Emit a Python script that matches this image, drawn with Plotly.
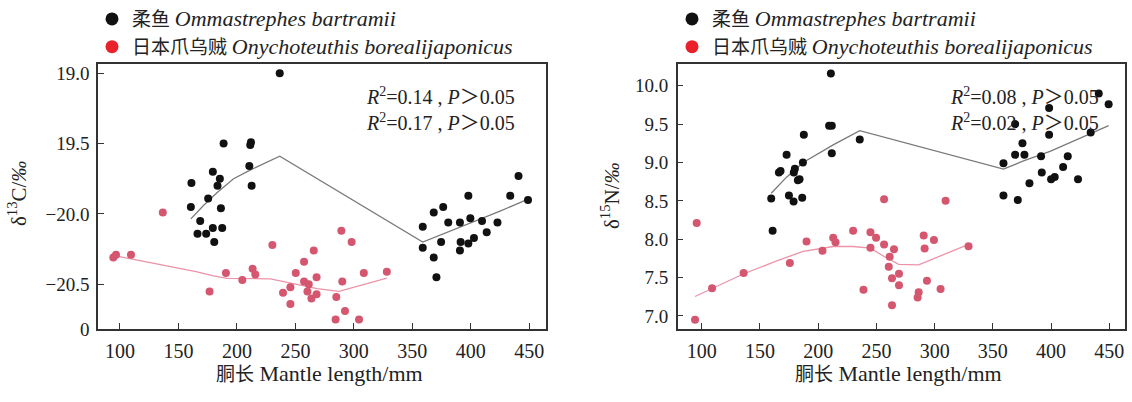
import plotly.graph_objects as go

W, H = 1132, 402

# ---------------- data ----------------
# Left panel: delta13C vs mantle length
ob_c_x = [236.6, 188.6, 212.0, 211.4, 210.6, 212.6, 179.4, 185.4, 183.4, 161.1,
          175.4, 160.6, 186.3, 168.6, 166.3, 173.7, 179.4, 187.4, 180.6,
          358.9, 358.9, 368.3, 376.4, 368.3, 370.6, 374.6, 380.7, 390.7, 390.7,
          391.3, 397.9, 397.9, 399.6, 402.7, 409.6, 413.6, 422.8, 433.7, 440.8, 448.9]
ob_c_y = [-19.00, -19.50, -19.49, -19.51, -19.66, -19.80, -19.70, -19.75, -19.80, -19.78,
          -19.89, -19.95, -19.96, -20.05, -20.14, -20.14, -20.10, -20.10, -20.20,
          -20.09, -20.24, -19.99, -19.95, -20.31, -20.45, -20.20, -20.06, -20.06, -20.26,
          -20.20, -19.87, -20.21, -20.03, -20.17, -20.05, -20.13, -20.06, -19.87, -19.73, -19.90]

ob2_c_x = [94.3, 96.6, 109.4, 136.6, 176.6, 190.6, 204.6, 213.4, 215.7, 230.3,
           239.4, 245.7, 245.7, 250.3, 257.4, 265.7, 257.4, 261.4, 260.3, 263.7,
           268.1, 268.1, 289.3, 298.1, 290.1, 285.0, 292.4, 284.4, 304.4, 308.5, 328.2]
ob2_c_y = [-20.31, -20.29, -20.29, -19.99, -20.55, -20.42, -20.47, -20.39, -20.43, -20.22,
           -20.56, -20.52, -20.64, -20.42, -20.34, -20.26, -20.48, -20.50, -20.55, -20.60,
           -20.45, -20.57, -20.12, -20.20, -20.48, -20.59, -20.69, -20.75, -20.75, -20.42, -20.41]

fit_ob_c_x = [160.6, 171.4, 182.9, 197.1, 210.9, 236.6, 358.9, 380.0, 400.0, 425.0, 449.0]
fit_ob_c_y = [-20.035, -19.94, -19.85, -19.75, -19.69, -19.59, -20.20, -20.13, -20.06, -19.98, -19.895]

fit_ob2_c_x = [94.3, 134.3, 165.0, 180.0, 191.4, 228.6, 245.7, 268.6, 287.2, 328.2]
fit_ob2_c_y = [-20.294, -20.358, -20.41, -20.44, -20.457, -20.461, -20.49, -20.53, -20.55, -20.456]

# Right panel: delta15N vs mantle length
ob_n_x = [210.9, 209.4, 211.7, 211.7, 235.7, 187.7, 186.9, 172.9, 166.3, 167.7,
          180.0, 179.1, 184.0, 182.6, 174.9, 186.3, 178.9, 159.7, 160.9,
          359.1, 359.1, 371.4, 369.1, 377.1, 375.4, 369.1, 391.4, 392.0, 381.4,
          398.3, 398.3, 400.0, 403.1, 410.3, 414.3, 423.1, 434.0, 440.9, 449.4]
ob_n_y = [10.16, 9.48, 9.48, 9.12, 9.30, 9.36, 9.00, 9.10, 8.87, 8.89,
          8.92, 8.87, 8.78, 8.77, 8.57, 8.54, 8.49, 8.53, 8.11,
          8.99, 8.57, 8.51, 9.10, 9.10, 9.25, 9.50, 9.08, 8.87, 8.73,
          9.71, 9.36, 8.78, 8.81, 8.94, 9.08, 8.78, 9.39, 9.90, 9.76]

ob2_n_x = [94.3, 95.7, 108.9, 136.0, 175.7, 190.0, 203.7, 212.9, 214.9, 230.0,
           238.9, 244.9, 244.9, 249.7, 256.6, 256.6, 265.1, 261.4, 260.6, 269.4,
           263.4, 269.4, 263.4, 286.3, 285.4, 293.4, 290.6, 291.4, 299.4, 305.1, 309.4, 329.1]
ob2_n_y = [6.95, 8.21, 7.36, 7.56, 7.69, 7.97, 7.85, 8.02, 7.96, 8.11,
           7.34, 8.09, 7.89, 8.02, 7.93, 8.52, 7.87, 7.77, 7.64, 7.55,
           7.49, 7.40, 7.14, 7.31, 7.24, 7.46, 8.05, 7.88, 7.99, 7.35, 8.50, 7.91]

fit_ob_n_x = [159.7, 172.9, 187.1, 212.9, 235.7, 359.1, 376.3, 399.1, 449.4]
fit_ob_n_y = [8.599, 8.809, 9.00, 9.23, 9.415, 8.914, 9.02, 9.146, 9.48]

fit_ob2_n_x = [94.3, 135.7, 165.0, 187.1, 212.9, 230.0, 244.9, 256.3, 269.1, 286.3, 329.1]
fit_ob2_n_y = [7.253, 7.547, 7.72, 7.842, 7.905, 7.905, 7.884, 7.778, 7.673, 7.665, 7.934]

x_ticks = [100, 150, 200, 250, 300, 350, 400, 450]
c_ticks = [-19.0, -19.5, -20.0, -20.5, -20.819]
c_ticktext = ["19.0", "19.5", "\u221220.0", "\u221220.5", "0"]
n_ticks = [7.0, 7.5, 8.0, 8.5, 9.0, 9.5, 10.0]
n_ticktext = ["7.0", "7.5", "8.0", "8.5", "9.0", "9.5", "10.0"]

species = ["柔鱼 <i><span style='font-size:22px'>Ommastrephes bartramii</span></i>",
           "日本爪乌贼 <i><span style='font-size:22px'>Onychoteuthis borealijaponicus</span></i>"]
stats_c = ["<i>R</i><sup>2</sup>=0.14 , <i>P</i>＞0.05", "<i>R</i><sup>2</sup>=0.17 , <i>P</i>＞0.05"]
stats_n = ["<i>R</i><sup>2</sup>=0.08 , <i>P</i>＞0.05", "<i>R</i><sup>2</sup>=0.02 , <i>P</i>＞0.05"]
x_title = "<span style='font-size:19px'>胴长</span> Mantle length/mm"

# ---------------- style ----------------
SERIF = "Liberation Serif, Noto Sans CJK SC, serif"
BLACK = "#111111"
PINK = "#d4566f"
PINK_LINE = "#ec93a8"
GRAY_LINE = "#7a7a7a"
LEG_RED = "#e8212b"
AX = "#333333"
TXT = "#222222"

fig = go.Figure()

def pts(x, y, color, xa, ya):
    fig.add_trace(go.Scatter(x=x, y=y, mode="markers", xaxis=xa, yaxis=ya,
                             marker=dict(size=8, color=color), showlegend=False))

def line(x, y, color, xa, ya):
    fig.add_trace(go.Scatter(x=x, y=y, mode="lines", xaxis=xa, yaxis=ya,
                             line=dict(color=color, width=1.3), showlegend=False))

line(fit_ob_c_x, fit_ob_c_y, GRAY_LINE, "x", "y")
line(fit_ob2_c_x, fit_ob2_c_y, PINK_LINE, "x", "y")
pts(ob_c_x, ob_c_y, BLACK, "x", "y")
pts(ob2_c_x, ob2_c_y, PINK, "x", "y")

line(fit_ob_n_x, fit_ob_n_y, GRAY_LINE, "x2", "y2")
line(fit_ob2_n_x, fit_ob2_n_y, PINK_LINE, "x2", "y2")
pts(ob_n_x, ob_n_y, BLACK, "x2", "y2")
pts(ob2_n_x, ob2_n_y, PINK, "x2", "y2")

# legend entries (one legend per panel)
for leg, xa, ya in [("legend", "x", "y"), ("legend2", "x2", "y2")]:
    for name, col, grp in [(species[0], BLACK, "a"), (species[1], LEG_RED, "b")]:
        fig.add_trace(go.Scatter(x=[None], y=[None], mode="markers", name=name,
                                 xaxis=xa, yaxis=ya, legend=leg, legendgroup=grp + leg,
                                 marker=dict(size=13, color=col), showlegend=True))

y_dom = [1 - 338 / H, 1 - 63 / H]
xl_dom = [98 / W, 546 / W]
xr_dom = [677.7 / W, 1125 / W]

axis_common = dict(showline=True, mirror=True, linecolor=AX, linewidth=1.5,
                   ticks="inside", ticklen=6, tickwidth=1.2, tickcolor=AX,
                   showgrid=False, zeroline=False)
xfont = dict(family=SERIF, size=20, color=TXT)
yfont = dict(family=SERIF, size=19, color=TXT)

leg_common = dict(font=dict(family=SERIF, size=19, color=TXT), bgcolor="rgba(0,0,0,0)",
                  itemsizing="trace", tracegroupgap=0, xanchor="left", yanchor="top",
                  orientation="v")

fig.update_layout(
    width=W, height=H, autosize=False,
    margin=dict(l=0, r=0, t=0, b=0),
    paper_bgcolor="white", plot_bgcolor="white",
    showlegend=True,
    xaxis=dict(domain=xl_dom, range=[81.2, 464.3], tickvals=x_ticks, anchor="y",
               tickfont=xfont, ticklabelstandoff=3, **axis_common),
    yaxis=dict(domain=y_dom, range=[-20.819, -18.933], tickvals=c_ticks, ticktext=c_ticktext,
               anchor="x", tickfont=yfont, ticklabelstandoff=3, **axis_common),
    xaxis2=dict(domain=xr_dom, range=[79.4, 463.45], tickvals=x_ticks, anchor="y2",
                tickfont=xfont, ticklabelstandoff=3, **axis_common),
    yaxis2=dict(domain=y_dom, range=[6.827, 10.286], tickvals=n_ticks, ticktext=n_ticktext,
                anchor="x2", tickfont=yfont, ticklabelstandoff=4, **axis_common),
    legend=dict(x=92 / W, y=1 + 3 / H, **leg_common),
    legend2=dict(x=672 / W, y=1 + 3 / H, **leg_common),
)

ann = []
# y axis titles
ann.append(dict(text="δ<sup>13</sup>C/<i>‰</i>", x=17 / W, y=1 - 198 / H, xref="paper", yref="paper",
                xanchor="center", yanchor="middle",
                textangle=-90, showarrow=False, font=dict(family=SERIF, size=21, color=TXT)))
ann.append(dict(text="δ<sup>15</sup>N/<i>‰</i>", x=610 / W, y=1 - 200 / H, xref="paper", yref="paper",
                xanchor="center", yanchor="middle",
                textangle=-90, showarrow=False, font=dict(family=SERIF, size=21, color=TXT)))
# x axis titles
for dom in (xl_dom, xr_dom):
    ann.append(dict(text=x_title, x=(dom[0] + dom[1]) / 2 - 3 / W, y=1 - 384 / H,
                    xref="paper", yref="paper", xanchor="center", yanchor="middle",
                    showarrow=False, font=dict(family=SERIF, size=22, color=TXT)))
# statistics
for txts, xr in ((stats_c, 517 / W), (stats_n, 1101 / W)):
    for t, yy in zip(txts, (96.7, 123.3)):
        ann.append(dict(text=t, x=xr, y=1 - yy / H, xref="paper", yref="paper",
                        xanchor="right", yanchor="middle", showarrow=False,
                        font=dict(family=SERIF, size=20, color=TXT)))
fig.update_layout(annotations=ann)

fig.write_html("out.html")
